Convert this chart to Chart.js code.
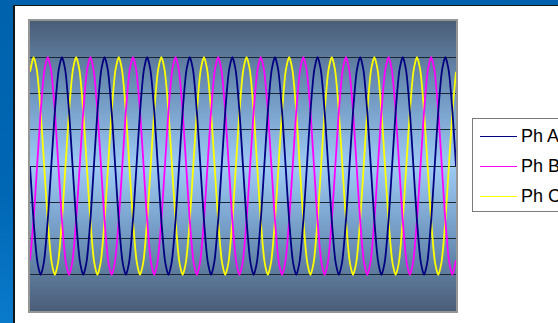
<!DOCTYPE html>
<html>
<head>
<meta charset="utf-8">
<script src="https://cdn.jsdelivr.net/npm/chart.js@4"></script>
<style>
    html, body { margin: 0; padding: 0; }
    body {
        width: 558px; height: 323px; overflow: hidden; position: relative;
        background: linear-gradient(to bottom, #0062ad 0%, #0067b4 60%, #0a7acb 100%);
        font-family: "Liberation Sans", Arial, sans-serif;
    }
    .panel {
        position: absolute; left: 13px; top: 5px; width: 560px; height: 330px;
        background: #fff; border-left: 2px solid #151515; border-top: 1px solid #151515;
    }
    .plot {
        position: absolute; left: 28px; top: 19px; width: 426px; height: 290px;
        border: 2px solid #959595;
        background: linear-gradient(to bottom, #4a5d77 0%, #6f96bf 25%, #9dcbf6 50%, #6f96bf 75%, #4a5d77 100%);
    }
    .plot canvas { display: block; }
    .legend {
        position: absolute; left: 472px; top: 118px; width: 110px; height: 92px;
        border: 1px solid #7a7a7a; background: #fff;
    }
    .legend .item { position: absolute; left: 7px; height: 20px; }
    .legend .swatch { position: absolute; left: 0; top: 9px; width: 37px; height: 0; border-top: 1.5px solid; }
    .legend .label { position: absolute; left: 41px; top: -1px; font-size: 18px; color: #000; white-space: nowrap; }
</style>
</head>
<body>
<div class="panel"></div>
<div class="plot"><canvas id="waveChart" width="426" height="290"></canvas></div>
<div class="legend" id="legend"></div>
<script>
// phase names and colours
const seriesNames = ['Ph A', 'Ph B', 'Ph C'];
const seriesColors = ['#000080', '#ff00ff', '#ffff00'];

// y axis range (gridlines every 1)
const yMin = -4;
const yMax = 4;

// samples, one row = one cycle (12 samples)
const phA = [
    0, -1.5, -2.6, -3, -2.6, -1.5, 0, 1.5, 2.6, 3, 2.6, 1.5,
    0, -1.5, -2.6, -3, -2.6, -1.5, 0, 1.5, 2.6, 3, 2.6, 1.5,
    0, -1.5, -2.6, -3, -2.6, -1.5, 0, 1.5, 2.6, 3, 2.6, 1.5,
    0, -1.5, -2.6, -3, -2.6, -1.5, 0, 1.5, 2.6, 3, 2.6, 1.5,
    0, -1.5, -2.6, -3, -2.6, -1.5, 0, 1.5, 2.6, 3, 2.6, 1.5,
    0, -1.5, -2.6, -3, -2.6, -1.5, 0, 1.5, 2.6, 3, 2.6, 1.5,
    0, -1.5, -2.6, -3, -2.6, -1.5, 0, 1.5, 2.6, 3, 2.6, 1.5,
    0, -1.5, -2.6, -3, -2.6, -1.5, 0, 1.5, 2.6, 3, 2.6, 1.5,
    0, -1.5, -2.6, -3, -2.6, -1.5, 0, 1.5, 2.6, 3, 2.6, 1.5,
    0, -1.5, -2.6, -3, -2.6, -1.5, 0, 1.5, 2.6, 3, 2.6, 1.5,
    0
];
const phB = [
    -2.6, -1.5, 0, 1.5, 2.6, 3, 2.6, 1.5, 0, -1.5, -2.6, -3,
    -2.6, -1.5, 0, 1.5, 2.6, 3, 2.6, 1.5, 0, -1.5, -2.6, -3,
    -2.6, -1.5, 0, 1.5, 2.6, 3, 2.6, 1.5, 0, -1.5, -2.6, -3,
    -2.6, -1.5, 0, 1.5, 2.6, 3, 2.6, 1.5, 0, -1.5, -2.6, -3,
    -2.6, -1.5, 0, 1.5, 2.6, 3, 2.6, 1.5, 0, -1.5, -2.6, -3,
    -2.6, -1.5, 0, 1.5, 2.6, 3, 2.6, 1.5, 0, -1.5, -2.6, -3,
    -2.6, -1.5, 0, 1.5, 2.6, 3, 2.6, 1.5, 0, -1.5, -2.6, -3,
    -2.6, -1.5, 0, 1.5, 2.6, 3, 2.6, 1.5, 0, -1.5, -2.6, -3,
    -2.6, -1.5, 0, 1.5, 2.6, 3, 2.6, 1.5, 0, -1.5, -2.6, -3,
    -2.6, -1.5, 0, 1.5, 2.6, 3, 2.6, 1.5, 0, -1.5, -2.6, -3,
    -2.6
];
const phC = [
    2.6, 3, 2.6, 1.5, 0, -1.5, -2.6, -3, -2.6, -1.5, 0, 1.5,
    2.6, 3, 2.6, 1.5, 0, -1.5, -2.6, -3, -2.6, -1.5, 0, 1.5,
    2.6, 3, 2.6, 1.5, 0, -1.5, -2.6, -3, -2.6, -1.5, 0, 1.5,
    2.6, 3, 2.6, 1.5, 0, -1.5, -2.6, -3, -2.6, -1.5, 0, 1.5,
    2.6, 3, 2.6, 1.5, 0, -1.5, -2.6, -3, -2.6, -1.5, 0, 1.5,
    2.6, 3, 2.6, 1.5, 0, -1.5, -2.6, -3, -2.6, -1.5, 0, 1.5,
    2.6, 3, 2.6, 1.5, 0, -1.5, -2.6, -3, -2.6, -1.5, 0, 1.5,
    2.6, 3, 2.6, 1.5, 0, -1.5, -2.6, -3, -2.6, -1.5, 0, 1.5,
    2.6, 3, 2.6, 1.5, 0, -1.5, -2.6, -3, -2.6, -1.5, 0, 1.5,
    2.6, 3, 2.6, 1.5, 0, -1.5, -2.6, -3, -2.6, -1.5, 0, 1.5,
    2.6
];

// sample numbers on the x axis
const sampleNo = phA.map((_, i) => i);

document.addEventListener('DOMContentLoaded', function() {
    const seriesData = [phA, phB, phC];

    // legend
    const legend = document.getElementById('legend');
    seriesNames.forEach((name, i) => {
        const item = document.createElement('div');
        item.className = 'item';
        item.style.top = (8 + i * 30) + 'px';
        item.innerHTML = '<span class="swatch" style="border-color:' + seriesColors[i] + '"></span>' +
            '<span class="label">' + name + '</span>';
        legend.appendChild(item);
    });

    const ctx = document.getElementById('waveChart').getContext('2d');

    new Chart(ctx, {
        type: 'line',
        data: {
            labels: sampleNo,
            datasets: seriesNames.map((name, i) => ({
                label: name,
                data: seriesData[i],
                borderColor: seriesColors[i],
                borderWidth: 1.8,
                pointRadius: 0,
                tension: 0.25,
                fill: false
            }))
        },
        options: {
            responsive: false,
            animation: false,
            layout: { padding: 0 },
            plugins: {
                legend: { display: false },
                tooltip: { enabled: false }
            },
            scales: {
                x: {
                    display: false,
                    offset: false
                },
                y: {
                    min: yMin,
                    max: yMax,
                    ticks: { display: false, stepSize: 1 },
                    border: { display: false },
                    grid: {
                        drawTicks: false,
                        lineWidth: 1,
                        color: c => (c.tick.value === yMin || c.tick.value === yMax) ? 'rgba(0,0,0,0)' : '#1b2633'
                    }
                }
            }
        }
    });
});
</script>
</body>
</html>
